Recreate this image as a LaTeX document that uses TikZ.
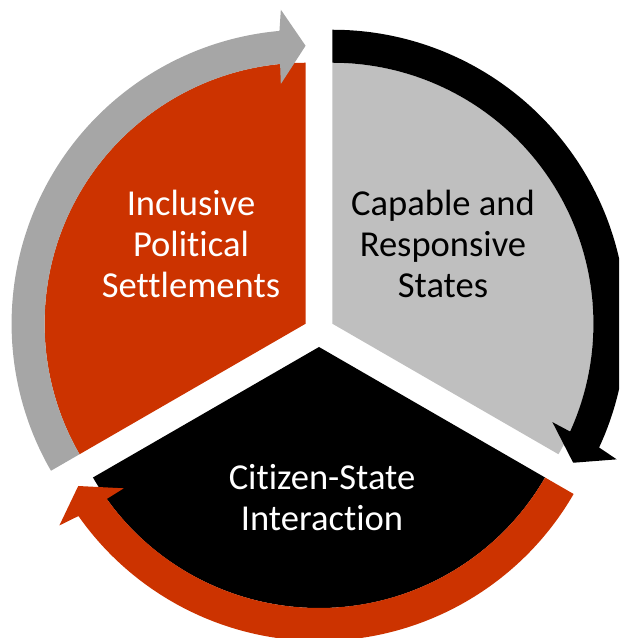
\documentclass[tikz,border=0pt]{standalone}
\usepackage{fontspec}
\setmainfont{Carlito}[Ligatures=NoCommon]

\definecolor{settlementRed}{HTML}{CC3300}
\definecolor{stateGrey}{HTML}{BFBFBF}
\definecolor{arrowGrey}{HTML}{A6A6A6}

\tikzset{
  labelText/.style={align=center, inner sep=0pt, font=\fontsize{20.8}{23.4}\selectfont}
}

\begin{document}
\begin{tikzpicture}[x=0.02cm, y=0.02cm]
\useasboundingbox (-319,-306.5) rectangle (300,331.5);
\clip (-319,-306.5) rectangle (300,331.5);

\coordinate (settlementsCenter) at (150:15.5);
\coordinate (statesCenter) at (30:15.5);
\coordinate (interactionCenter) at (270:15.5);

\begin{scope}[shift={(settlementsCenter)}]
\fill[settlementRed] (0,0) -- (90:261) arc[start angle=90, end angle=210, radius=261] -- cycle;
\end{scope}

\begin{scope}[shift={(statesCenter)}]
\fill[stateGrey] (0,0) -- (-30:261) arc[start angle=-30, end angle=90, radius=261] -- cycle;
\end{scope}

\begin{scope}[shift={(interactionCenter)}]
\fill[black] (0,0) -- (210:261) arc[start angle=210, end angle=330, radius=261] -- cycle;
\end{scope}

\begin{scope}[shift={(settlementsCenter)}]
\fill[arrowGrey] (210:294) arc[start angle=210, end angle=95.1, radius=294] -- (94.5:315) -- (90:278) -- (95.9:241) -- (95.6:261) arc[start angle=95.6, end angle=210, radius=261] -- cycle;
\end{scope}

\begin{scope}[shift={(statesCenter)}]
\fill[black] (90:294) arc[start angle=90, end angle=-24.9, radius=294] -- (-25.5:315) -- (-30:278) -- (-24.1:241) -- (-24.4:261) arc[start angle=-24.4, end angle=90, radius=261] -- cycle;
\end{scope}

\begin{scope}[shift={(interactionCenter)}]
\fill[settlementRed] (-30:294) arc[start angle=-30, end angle=-144.9, radius=294] -- (-145.5:315) -- (-150:278) -- (-144.1:241) -- (-144.4:261) arc[start angle=-144.4, end angle=-30, radius=261] -- cycle;
\end{scope}

\node[labelText, text=white] (settlementsLabel) at (-128,87.5) {Inclusive\\Political\\Settlements};
\node[labelText, text=black] (statesLabel) at (124,87.5) {Capable and\\Responsive\\States};
\node[labelText, text=white] (interactionLabel) at (3,-166) {Citizen-State\\Interaction};

\end{tikzpicture}
\end{document}
